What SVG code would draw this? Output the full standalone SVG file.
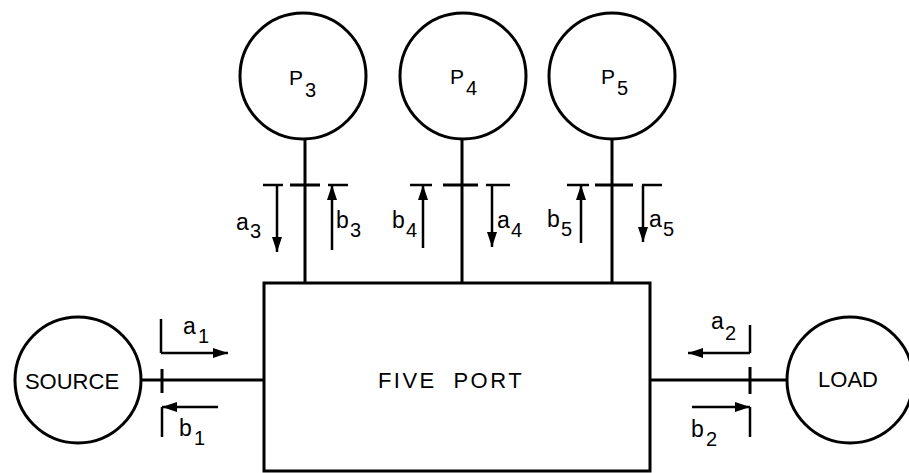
<svg xmlns="http://www.w3.org/2000/svg" width="909" height="473" viewBox="0 0 909 473">
<defs>
<marker id="ah" markerUnits="userSpaceOnUse" markerWidth="16" markerHeight="12" refX="15" refY="5" orient="auto">
<path d="M0,0 L15,5 L0,10 Z" fill="#000"/>
</marker>
<style>
.c{fill:#fff;stroke:#000;stroke-width:3}
.l{fill:none;stroke:#000;stroke-width:3}
.a{fill:none;stroke:#000;stroke-width:2.5;marker-end:url(#ah)}
.t{fill:none;stroke:#000;stroke-width:2.5}
text{font-family:"Liberation Sans",Arial,sans-serif;fill:#000}
.n{font-size:22px;text-anchor:middle}
.s{font-size:23px}
.sub{font-size:20px}
</style>
</defs>
<rect width="909" height="473" fill="#fff"/>

<g id="connectors">
<line class="l" x1="305" y1="139" x2="305" y2="283"/>
<line class="l" x1="462" y1="139" x2="462" y2="283"/>
<line class="l" x1="612" y1="139" x2="612" y2="283"/>
<line class="l" x1="141" y1="380" x2="264" y2="380"/>
<line class="l" x1="650" y1="380" x2="787" y2="380"/>
<!-- reference plane ticks -->
<line class="l" x1="290" y1="185" x2="320" y2="185"/>
<line class="l" x1="443" y1="185" x2="478" y2="185"/>
<line class="l" x1="595" y1="185" x2="633" y2="185"/>
<line class="l" x1="162" y1="369" x2="162" y2="393"/>
<line class="l" x1="750" y1="367" x2="750" y2="394"/>
<!-- port 3 -->
<line class="t" x1="263" y1="185" x2="283" y2="185"/>
<line class="a" x1="277" y1="185" x2="277" y2="252"/>
<line class="t" x1="328" y1="185" x2="348" y2="185"/>
<line class="a" x1="332" y1="250" x2="332" y2="185"/>
<!-- port 4 -->
<line class="t" x1="410" y1="185" x2="432" y2="185"/>
<line class="a" x1="423" y1="248" x2="423" y2="185"/>
<line class="t" x1="486" y1="185" x2="510" y2="185"/>
<line class="a" x1="492" y1="185" x2="492" y2="247"/>
<!-- port 5 -->
<line class="t" x1="567" y1="185" x2="589" y2="185"/>
<line class="a" x1="581" y1="243" x2="581" y2="185"/>
<line class="t" x1="642" y1="185" x2="662" y2="185"/>
<line class="a" x1="643" y1="185" x2="643" y2="242"/>
<!-- port 1 -->
<line class="t" x1="161" y1="319" x2="161" y2="353"/>
<line class="a" x1="161" y1="353" x2="228" y2="353"/>
<line class="t" x1="162" y1="407" x2="162" y2="437"/>
<line class="a" x1="218" y1="407" x2="162" y2="407"/>
<!-- port 2 -->
<line class="t" x1="750" y1="325" x2="750" y2="353"/>
<line class="a" x1="750" y1="353" x2="688" y2="353"/>
<line class="t" x1="750" y1="407" x2="750" y2="437"/>
<line class="a" x1="692" y1="407" x2="750" y2="407"/>
</g>

<g id="wave-labels">
<text class="s" x="236" y="230">a</text><text class="sub" x="250" y="238">3</text>
<text class="s" x="336" y="228">b</text><text class="sub" x="350" y="237">3</text>
<text class="s" x="392" y="228">b</text><text class="sub" x="406" y="237">4</text>
<text class="s" x="497" y="228">a</text><text class="sub" x="511" y="237">4</text>
<text class="s" x="547" y="227">b</text><text class="sub" x="561" y="236">5</text>
<text class="s" x="649" y="227">a</text><text class="sub" x="663" y="236">5</text>
<text class="s" x="183" y="334">a</text><text class="sub" x="198" y="343">1</text>
<text class="s" x="179" y="436">b</text><text class="sub" x="194" y="445">1</text>
<text class="s" x="711" y="329">a</text><text class="sub" x="725" y="340">2</text>
<text class="s" x="691" y="437">b</text><text class="sub" x="706" y="446">2</text>
</g>

<g id="p3">
<circle class="c" cx="303" cy="76" r="63"/>
<text x="289" y="85" font-size="21">P</text><text x="305" y="97" font-size="20">3</text>
</g>
<g id="p4">
<circle class="c" cx="463" cy="76" r="63"/>
<text x="450" y="84" font-size="21">P</text><text x="466" y="95" font-size="20">4</text>
</g>
<g id="p5">
<circle class="c" cx="612" cy="76" r="63"/>
<text x="601" y="84" font-size="21">P</text><text x="617" y="95" font-size="20">5</text>
</g>
<g id="source">
<circle class="c" cx="78" cy="380" r="63"/>
<text class="n" x="72" y="389">SOURCE</text>
</g>
<g id="load">
<circle class="c" cx="850" cy="380" r="63"/>
<text class="n" x="848" y="387">LOAD</text>
</g>
<g id="five-port">
<rect class="l" x="264" y="283" width="386" height="188"/>
<text class="n" x="451" y="388" letter-spacing="2.5" word-spacing="8">FIVE PORT</text>
</g>
</svg>
